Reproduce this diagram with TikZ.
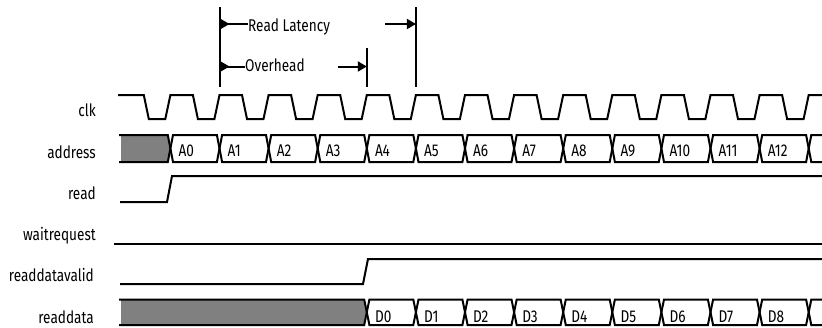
\documentclass[tikz,border=0pt]{standalone}
\usepackage{fontspec}
\setmainfont{Fira Sans}[FakeStretch=0.8]
\usetikzlibrary{arrows.meta,calc}
\pgfdeclarelayer{background}
\pgfsetlayers{background,main}

\definecolor{busgray}{RGB}{128,128,128}
\tikzset{
  wave/.style={line width=2pt, line join=miter},
  marker/.style={line width=2pt},
  siglabel/.style={anchor=base east, inner sep=0pt, font=\fontsize{17}{19}\selectfont},
  celllabel/.style={anchor=base west, inner sep=0pt, font=\fontsize{17}{19}\selectfont},
  annolabel/.style={anchor=base west, inner sep=0pt, font=\fontsize{17}{19}\selectfont}
}

\begin{document}
\begin{tikzpicture}[x=1pt,y=-1pt]
\useasboundingbox (0,0) rectangle (822,327);
\clip (0,0) rectangle (822,327);

\def\tz{170.4}% first bus transition
\def\per{49.1}% clock period
\def\ed{2.6}% half width of a bus crossing

% signal names
\node[siglabel] (clkLabel)   at (96,116.5) {clk};
\node[siglabel] (addrLabel)  at (96,158)   {address};
\node[siglabel] (readLabel)  at (96,199)   {read};
\node[siglabel] (waitLabel)  at (96,240)   {waitrequest};
\node[siglabel] (validLabel) at (94,281.5) {readdatavalid};
\node[siglabel] (dataLabel)  at (94,323)   {readdata};

% clock
\draw[wave] (118,95) foreach \k in {-1,...,12}{
  -- ({\tz+\k*\per+22.5},95) -- ({\tz+\k*\per+27.5},119)
  -- ({\tz+\k*\per+44},119) -- ({\tz+(\k+1)*\per},95)} -- (824,95);

% address bus
\begin{pgfonlayer}{background}
\fill[busgray] (121,135) -- ({\tz-\ed},135) -- (\tz,148.5) -- ({\tz-\ed},162) -- (121,162) -- cycle;
\end{pgfonlayer}
\draw[wave] (119,135) -- ({\tz-\ed},135) -- (\tz,148.5) -- ({\tz-\ed},162) -- (119,162);
\foreach \lab [count=\k from 0] in {A0,A1,A2,A3,A4,A5,A6,A7,A8,A9,A10,A11,A12}{
  \draw[wave] ({\tz+\k*\per},148.5) -- ({\tz+\k*\per+\ed},135) -- ({\tz+(\k+1)*\per-\ed},135)
    -- ({\tz+(\k+1)*\per},148.5) -- ({\tz+(\k+1)*\per-\ed},162) -- ({\tz+\k*\per+\ed},162) -- cycle;
  \node[celllabel] (addr\k) at ({\tz+\k*\per+8},156.5) {\lab};
}
\draw[wave] (824,135) -- ({\tz+13*\per+\ed},135) -- ({\tz+13*\per},148.5) -- ({\tz+13*\per+\ed},162) -- (824,162);

% read, waitrequest, readdatavalid
\draw[wave] (120,202) -- (167,202) -- (172,176) -- (824,176);
\draw[wave] (114,244) -- (824,244);
\draw[wave] (120,284) -- (363,284) -- (368,259) -- (824,259);

% readdata bus
\begin{pgfonlayer}{background}
\fill[busgray] (121,299.5) -- ({\tz+4*\per-\ed},299.5) -- ({\tz+4*\per},312.2) -- ({\tz+4*\per-\ed},325) -- (121,325) -- cycle;
\end{pgfonlayer}
\draw[wave] (119,299.5) -- ({\tz+4*\per-\ed},299.5) -- ({\tz+4*\per},312.2) -- ({\tz+4*\per-\ed},325) -- (119,325);
\foreach \lab [count=\k from 4] in {D0,D1,D2,D3,D4,D5,D6,D7,D8}{
  \draw[wave] ({\tz+\k*\per},312.2) -- ({\tz+\k*\per+\ed},299.5) -- ({\tz+(\k+1)*\per-\ed},299.5)
    -- ({\tz+(\k+1)*\per},312.2) -- ({\tz+(\k+1)*\per-\ed},325) -- ({\tz+\k*\per+\ed},325) -- cycle;
  \node[celllabel] (data\k) at ({\tz+\k*\per+8},322.5) {\lab};
}
\draw[wave] (824,299.5) -- ({\tz+13*\per+\ed},299.5) -- ({\tz+13*\per},312.2) -- ({\tz+13*\per+\ed},325) -- (824,325);

% latency markers
\coordinate (LatTop)    at ({\tz+\per},7);
\coordinate (LatBot)    at ({\tz+\per},87);
\coordinate (LatEndTop) at ({\tz+5*\per},7);
\coordinate (LatEndBot) at ({\tz+5*\per},87);
\coordinate (OvhEndTop) at ({\tz+4*\per},48);
\coordinate (OvhEndBot) at ({\tz+4*\per},87);
\draw[marker] (LatTop) -- (LatBot);
\draw[marker] (LatEndTop) -- (LatEndBot);
\draw[marker] (OvhEndTop) -- (OvhEndBot);

\node[annolabel] (latText) at (248,31.5) {Read Latency};
\node[annolabel] (ovhText) at (245,71.5) {Overhead};

\coordinate (LatStart) at ({\tz+\per},24);
\coordinate (OvhStart) at ({\tz+\per},66.5);
\coordinate (LatTail)  at (385,24);
\coordinate (LatEnd)   at ({\tz+5*\per},24);
\coordinate (OvhTail)  at (338,66.5);
\coordinate (OvhEnd)   at ({\tz+4*\per},66.5);

\draw[marker,{Triangle[reversed,length=10pt,width=11pt]}-] (LatStart) -- (LatStart -| latText.west);
\draw[marker,{Triangle[reversed,length=10pt,width=11pt]}-] (OvhStart) -- (OvhStart -| ovhText.west);
\draw[marker,-{Triangle[length=9pt,width=10pt]}] (LatTail) -- (LatEnd);
\draw[marker,-{Triangle[length=9pt,width=10pt]}] (OvhTail) -- (OvhEnd);
\end{tikzpicture}
\end{document}
